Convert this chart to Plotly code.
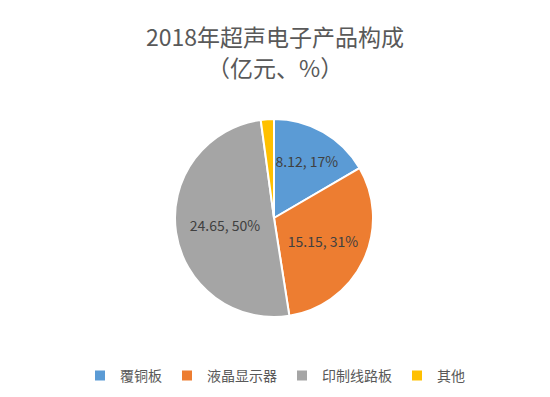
import plotly.graph_objects as go

categories = ["覆铜板", "液晶显示器", "印制线路板", "其他"]
values = [8.12, 15.15, 24.65, 1.05]
colors = ["#5B9BD5", "#ED7D31", "#A5A5A5", "#FFC000"]
show_label = [True, True, True, False]

texttemplate = ["%{value}, %{percent:.0%}" if s else "" for s in show_label]

# page body has an 8px default margin; work in screen pixels and compensate
OFF = 8
W, H = 550 - OFF, 397 - OFF


def px_x(x):
    return (x - OFF) / W


def px_y(y):
    return (H - (y - OFF)) / H


cx, cy, r = 274, 218, 99

fig = go.Figure(go.Pie(
    labels=categories,
    values=values,
    marker=dict(colors=colors, line=dict(color="white", width=2)),
    sort=False,
    direction="clockwise",
    rotation=0,
    texttemplate=texttemplate,
    textposition="inside",
    insidetextorientation="horizontal",
    textfont=dict(size=14, color="#404040", family="Noto Sans CJK SC"),
    domain=dict(x=[px_x(cx - r), px_x(cx + r)], y=[px_y(cy + r), px_y(cy - r)]),
    hoverinfo="label+value+percent",
))

fig.update_layout(
    width=W, height=H,
    margin=dict(l=0, r=0, t=0, b=0),
    paper_bgcolor="white",
    plot_bgcolor="white",
    font=dict(family="Noto Sans CJK SC", color="#595959"),
    showlegend=True,
    legend=dict(orientation="h", x=px_x(275), xanchor="center", y=px_y(376), yanchor="middle",
                font=dict(size=14, color="#595959"), itemwidth=30),
    annotations=[
        dict(text="2018年超声电子产品构成", x=px_x(275), y=px_y(36), xref="paper", yref="paper",
             showarrow=False, font=dict(size=23, color="#595959"), xanchor="center", yanchor="middle"),
        dict(text="（亿元、%）", x=px_x(275), y=px_y(67), xref="paper", yref="paper",
             showarrow=False, font=dict(size=23, color="#595959"), xanchor="center", yanchor="middle"),
    ],
)

fig.write_html("out.html")
